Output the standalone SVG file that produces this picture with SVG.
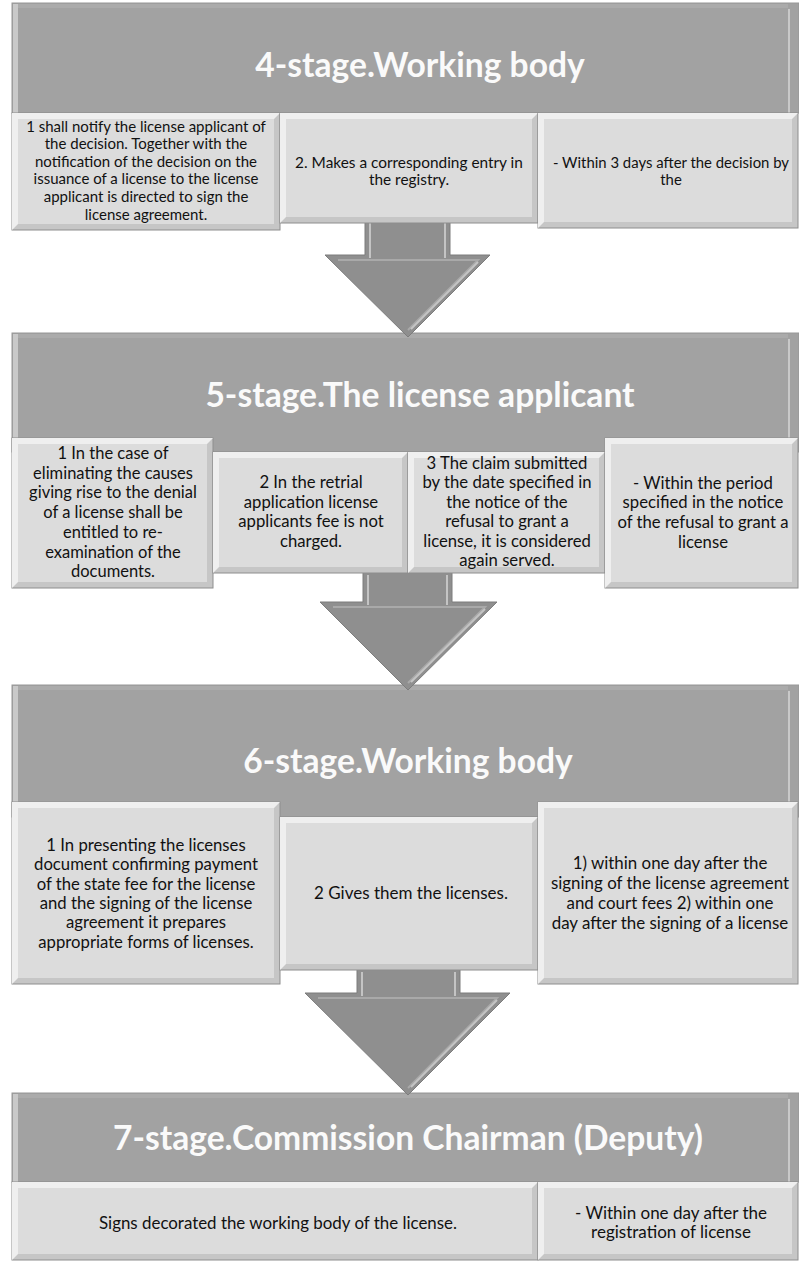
<svg xmlns="http://www.w3.org/2000/svg" width="799" height="1262" viewBox="0 0 799 1262">
<style>
.hd{fill:#a2a2a2;stroke:#979797;stroke-width:1}
.hl{fill:#c9c9c9}
.bo{fill:#c6c6c6;stroke:#8e8e8e;stroke-width:1}
.bl{fill:#efefef}
.bi{fill:#dcdcdc}
.ht{font-family:Lato,"Liberation Sans",sans-serif;font-weight:bold;font-size:33.6px;fill:#fafafa;text-anchor:middle}
.t{font-family:Lato,"Liberation Sans",sans-serif;fill:#111;text-anchor:middle}
.ar{fill:#8f8f8f;stroke:#7d7d7d;stroke-width:1}
.arl{fill:none;stroke:#c4c4c4;stroke-width:2}
.ard{fill:none;stroke:#a9a9a9;stroke-width:2}
</style>
<defs>
<linearGradient id="hg" x1="0" y1="0" x2="0" y2="1">
<stop offset="0" stop-color="#a8a8a8"/>
<stop offset="1" stop-color="#9e9e9e"/>
</linearGradient>
</defs>

<!-- headers -->
<g id="stage4-header">
<rect class="hd" x="12" y="3" width="787" height="110" fill="url(#hg)"/>
<rect class="hl" x="13" y="4" width="5" height="109"/>
<rect class="hl" x="788" y="9" width="2" height="104"/>
<rect x="18" y="4" width="770" height="4" fill="#ababab"/>
<text class="ht" x="420" y="77">4-stage.Working body</text>
</g>
<g id="stage5-header">
<rect class="hd" x="12" y="333" width="787" height="119" fill="url(#hg)"/>
<rect class="hl" x="13" y="334" width="5" height="104"/>
<rect class="hl" x="788" y="339" width="2" height="100"/>
<rect x="18" y="334" width="770" height="4" fill="#ababab"/>
<text class="ht" x="420" y="407">5-stage.The license applicant</text>
</g>
<g id="stage6-header">
<rect class="hd" x="12" y="685" width="787" height="132" fill="url(#hg)"/>
<rect class="hl" x="13" y="686" width="5" height="116"/>
<rect class="hl" x="788" y="691" width="2" height="111"/>
<rect x="18" y="686" width="770" height="4" fill="#ababab"/>
<text class="ht" x="408" y="773">6-stage.Working body</text>
</g>
<g id="stage7-header">
<rect class="hd" x="12" y="1093" width="787" height="89" fill="url(#hg)"/>
<rect class="hl" x="13" y="1094" width="5" height="88"/>
<rect class="hl" x="788" y="1099" width="2" height="83"/>
<rect x="18" y="1094" width="770" height="4" fill="#ababab"/>
<text class="ht" x="408" y="1150">7-stage.Commission Chairman (Deputy)</text>
</g>

<!-- connectors -->
<g id="connectors">
<g id="arrow-4-5">
<path class="ar" d="M365,205 H450 V255 H490 L408,337 L325,255 H365 Z"/>
<path class="arl" d="M370,215 V258"/>
<path class="arl" d="M445,215 V258"/>
<path class="ard" d="M338,260 H478 L408,330"/>
<path class="arl" d="M478,262 L411,329"/>
</g>
<g id="arrow-5-6">
<path class="ar" d="M363,560 H452 V602 H497 L408,690 L320,602 H363 Z"/>
<path class="arl" d="M368,575 V605"/>
<path class="arl" d="M447,575 V605"/>
<path class="ard" d="M333,607 H485 L408,683"/>
<path class="arl" d="M485,609 L411,682"/>
</g>
<g id="arrow-6-7">
<path class="ar" d="M357,960 H460 V993 H510 L408,1095 L305,993 H357 Z"/>
<path class="arl" d="M362,972 V996"/>
<path class="arl" d="M455,972 V996"/>
<path class="ard" d="M318,998 H497 L408,1088"/>
<path class="arl" d="M497,1000 L411,1087"/>
</g>
</g>

<!-- stage 4 boxes -->
<g id="s4-b1">
<rect class="bo" x="12" y="113" width="268" height="117"/>
<path class="bl" d="M12,113 H280 L274,119 H18 V224 L12,230 Z"/>
<rect class="bi" x="18" y="119" width="256" height="105"/>
<text class="t" font-size="15"><tspan x="146" y="131.5">1 shall notify the license applicant of</tspan><tspan x="146" y="149">the decision. Together with the</tspan><tspan x="146" y="166.5">notification of the decision on the</tspan><tspan x="146" y="184">issuance of a license to the license</tspan><tspan x="146" y="202">applicant is directed to sign the</tspan><tspan x="146" y="219.5">license agreement.</tspan></text>
</g>
<g id="s4-b2">
<rect class="bo" x="280" y="113" width="258" height="110"/>
<path class="bl" d="M280,113 H538 L532,119 H286 V217 L280,223 Z"/>
<rect class="bi" x="286" y="119" width="246" height="98"/>
<text class="t" font-size="15.4"><tspan x="409" y="167.5">2. Makes a corresponding entry in</tspan><tspan x="409" y="184.5">the registry.</tspan></text>
</g>
<g id="s4-b3">
<rect class="bo" x="538" y="113" width="260" height="115"/>
<path class="bl" d="M538,113 H798 L792,119 H544 V222 L538,228 Z"/>
<rect class="bi" x="544" y="119" width="248" height="103"/>
<text class="t" font-size="14.9"><tspan x="671" y="167.5">- Within 3 days after the decision by</tspan><tspan x="671" y="184.5">the</tspan></text>
</g>

<!-- stage 5 boxes -->
<g id="s5-b1">
<rect class="bo" x="12" y="438" width="201" height="150"/>
<path class="bl" d="M12,438 H213 L207,444 H18 V582 L12,588 Z"/>
<rect class="bi" x="18" y="444" width="189" height="138"/>
<text class="t" font-size="16.5"><tspan x="113" y="458.5">1 In the case of</tspan><tspan x="113" y="478.5">eliminating the causes</tspan><tspan x="113" y="498">giving rise to the denial</tspan><tspan x="113" y="517.5">of a license shall be</tspan><tspan x="113" y="537.5">entitled to re-</tspan><tspan x="113" y="557.5">examination of the</tspan><tspan x="113" y="577">documents.</tspan></text>
</g>
<g id="s5-b2">
<rect class="bo" x="213" y="452" width="195" height="121"/>
<path class="bl" d="M213,452 H408 L402,458 H219 V567 L213,573 Z"/>
<rect class="bi" x="219" y="458" width="183" height="109"/>
<text class="t" font-size="16.7"><tspan x="311" y="487.5">2 In the retrial</tspan><tspan x="311" y="507.5">application license</tspan><tspan x="311" y="527">applicants fee is not</tspan><tspan x="311" y="546.5">charged.</tspan></text>
</g>
<g id="s5-b3">
<rect class="bo" x="408" y="452" width="197" height="121"/>
<path class="bl" d="M408,452 H605 L599,458 H414 V567 L408,573 Z"/>
<rect class="bi" x="414" y="458" width="185" height="109"/>
<text class="t" font-size="16.7"><tspan x="507" y="468.5">3 The claim submitted</tspan><tspan x="507" y="488">by the date specified in</tspan><tspan x="507" y="507.5">the notice of the</tspan><tspan x="507" y="527">refusal to grant a</tspan><tspan x="507" y="546.5">license, it is considered</tspan><tspan x="507" y="566">again served.</tspan></text>
</g>
<g id="s5-b4">
<rect class="bo" x="605" y="438" width="193" height="150"/>
<path class="bl" d="M605,438 H798 L792,444 H611 V582 L605,588 Z"/>
<rect class="bi" x="611" y="444" width="181" height="138"/>
<text class="t" font-size="16.7"><tspan x="703" y="488.5">- Within the period</tspan><tspan x="703" y="507.5">specified in the notice</tspan><tspan x="703" y="527.5">of the refusal to grant a</tspan><tspan x="703" y="547.5">license</tspan></text>
</g>

<!-- stage 6 boxes -->
<g id="s6-b1">
<rect class="bo" x="12" y="802" width="268" height="182"/>
<path class="bl" d="M12,802 H280 L274,808 H18 V978 L12,984 Z"/>
<rect class="bi" x="18" y="808" width="256" height="170"/>
<text class="t" font-size="16.7"><tspan x="146" y="850.5">1 In presenting the licenses</tspan><tspan x="146" y="870">document confirming payment</tspan><tspan x="146" y="889.5">of the state fee for the license</tspan><tspan x="146" y="909">and the signing of the license</tspan><tspan x="146" y="928">agreement it prepares</tspan><tspan x="146" y="947.5">appropriate forms of licenses.</tspan></text>
</g>
<g id="s6-b2">
<rect class="bo" x="280" y="817" width="258" height="153"/>
<path class="bl" d="M280,817 H538 L532,823 H286 V964 L280,970 Z"/>
<rect class="bi" x="286" y="823" width="246" height="141"/>
<text class="t" font-size="17" x="411" y="898.5">2 Gives them the licenses.</text>
</g>
<g id="s6-b3">
<rect class="bo" x="538" y="802" width="260" height="182"/>
<path class="bl" d="M538,802 H798 L792,808 H544 V978 L538,984 Z"/>
<rect class="bi" x="544" y="808" width="248" height="170"/>
<text class="t" font-size="16.9"><tspan x="670" y="868.5">1) within one day after the</tspan><tspan x="670" y="889">signing of the license agreement</tspan><tspan x="670" y="909">and court fees  2) within one</tspan><tspan x="670" y="928.5">day after the signing of a license</tspan></text>
</g>

<!-- stage 7 boxes -->
<g id="s7-b1">
<rect class="bo" x="12" y="1182" width="526" height="78"/>
<path class="bl" d="M12,1182 H538 L532,1188 H18 V1254 L12,1260 Z"/>
<rect class="bi" x="18" y="1188" width="514" height="66"/>
<text class="t" font-size="16.9" x="278" y="1228.5">Signs decorated the working body of the license.</text>
</g>
<g id="s7-b2">
<rect class="bo" x="538" y="1182" width="260" height="78"/>
<path class="bl" d="M538,1182 H798 L792,1188 H544 V1254 L538,1260 Z"/>
<rect class="bi" x="544" y="1188" width="248" height="66"/>
<text class="t" font-size="17"><tspan x="671" y="1218.5">- Within one day after the</tspan><tspan x="671" y="1237.5">registration of license</tspan></text>
</g>
</svg>
